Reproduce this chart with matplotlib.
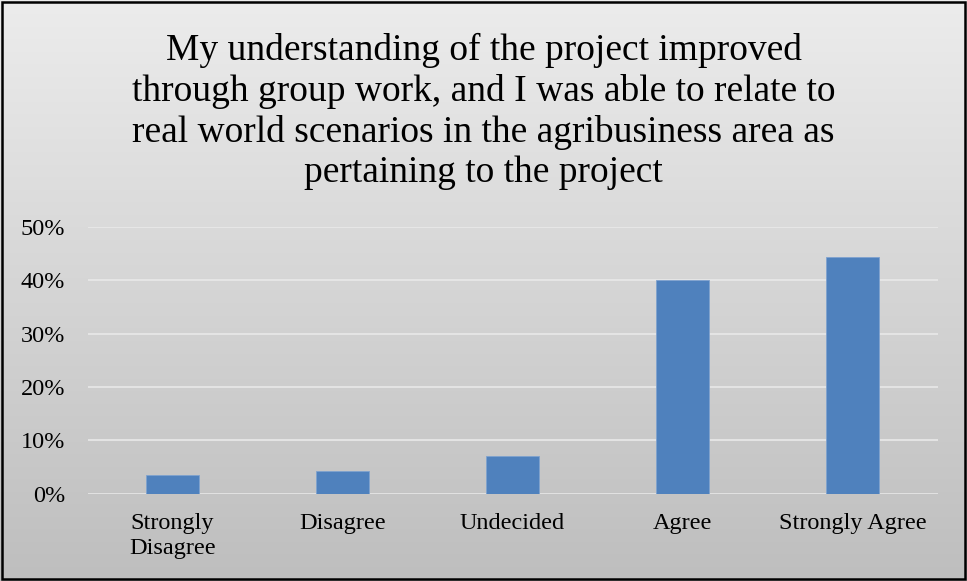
import numpy as np
import matplotlib.pyplot as plt
from matplotlib.patches import Rectangle

categories = ["Strongly\nDisagree", "Disagree", "Undecided", "Agree", "Strongly Agree"]
values = [0.035, 0.043, 0.071, 0.400, 0.443]
yticks = [0.0, 0.1, 0.2, 0.3, 0.4, 0.5]
title = ("My understanding of the project improved\n"
         "through group work, and I was able to relate to\n"
         "real world scenarios in the agribusiness area as\n"
         "pertaining to the project")

plt.rcParams['font.family'] = ['Liberation Serif', 'DejaVu Serif']

fig = plt.figure(figsize=(9.67, 5.81), dpi=100)

# gradient background
bg = fig.add_axes([0, 0, 1, 1], zorder=-10)
grad = np.linspace(0, 1, 256).reshape(-1, 1)
bg.imshow(grad, aspect='auto', cmap=plt.matplotlib.colors.LinearSegmentedColormap.from_list(
    'g', ['#ececec', '#bebebe']), extent=[0, 1, 0, 1], origin='upper')
bg.add_patch(Rectangle((0.002, 0.003), 0.996, 0.994, fill=False, edgecolor='black',
                       linewidth=1.8, transform=bg.transAxes))
bg.set_axis_off()

ax = fig.add_axes([0.0905, 0.1503, 0.879, 0.459])
ax.patch.set_alpha(0)
x = np.arange(len(categories))
ax.bar(x, values, width=0.31, color='#4f81bd', edgecolor='#7fa2cf', linewidth=0.6, zorder=3)
ax.set_xlim(-0.5, len(categories) - 0.5)
ax.set_ylim(0, 0.5)
ax.set_yticks(yticks)
ax.set_yticklabels([f"{int(round(v * 100))}%" for v in yticks], fontsize=17.5)
ax.set_xticks(x)
ax.set_xticklabels(categories, fontsize=17.5, linespacing=1.25)
ax.tick_params(axis='x', length=0, pad=14)
ax.tick_params(axis='y', length=0, pad=16)
ax.grid(axis='y', color='#ebebeb', linewidth=1.1, zorder=0)
for s in ax.spines.values():
    s.set_visible(False)

fig.text(0.5, 0.943, title, ha='center', va='top', fontsize=27, linespacing=1.22)

fig.savefig('out.png', dpi=100)
